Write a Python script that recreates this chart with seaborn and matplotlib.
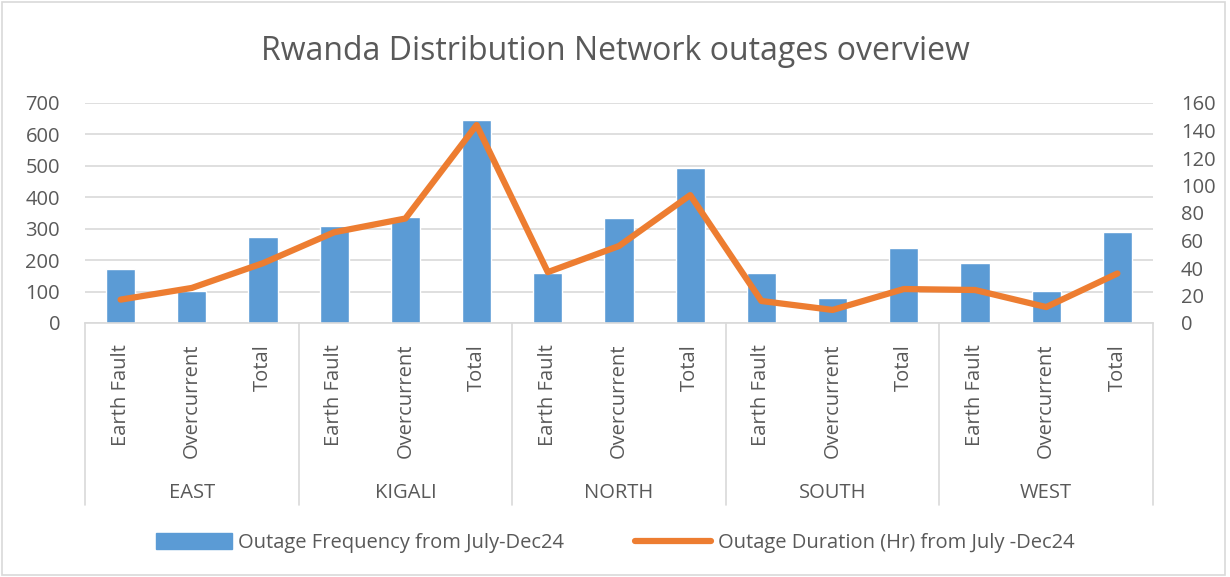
import numpy as np
import pandas as pd
import matplotlib
matplotlib.use('Agg')
import matplotlib.pyplot as plt
import seaborn as sns
from matplotlib.patches import Rectangle
from matplotlib.lines import Line2D
from matplotlib.patches import Patch

regions = ['EAST', 'KIGALI', 'NORTH', 'SOUTH', 'WEST']
fault_types = ['Earth Fault', 'Overcurrent', 'Total']
frequency = [172, 101, 274, 309, 338, 646, 159, 335, 493, 159, 79, 239, 192, 102, 290]
duration = [17, 25.5, 43.5, 66, 76, 144, 37, 56, 93, 16, 9.5, 24.7, 24, 11.6, 36]

sns.set_theme(style='white')
plt.rcParams['font.family'] = ['Open Sans', 'DejaVu Sans']
gray = '#595959'
blue = '#5B9BD5'
orange = '#ED7D31'

keys = [f'{r}|{t}' for r in regions for t in fault_types]
df = pd.DataFrame({'key': keys, 'pos': np.arange(len(keys)),
                   'frequency': frequency, 'duration': duration})

fig = plt.figure(figsize=(12.3, 5.77), dpi=100)
ax = fig.add_axes([85 / 1230, 1 - 323 / 577, (1153 - 85) / 1230, 220 / 577])

sns.barplot(data=df, x='key', y='frequency', color=blue, width=0.41,
            saturation=1, ax=ax)
ax.set_ylim(0, 700)
ax.set_yticks(range(0, 701, 100))
ax.yaxis.grid(True, color='#D9D9D9', linewidth=1.2)
ax.set_axisbelow(True)
ax.set_xlim(-0.5, len(keys) - 0.5)
ax.set_xlabel('')
ax.set_ylabel('')
for s in ['top', 'left', 'right']:
    ax.spines[s].set_visible(False)
ax.spines['bottom'].set_color('#D9D9D9')
ax.spines['bottom'].set_linewidth(1.2)
ax.set_xticks(range(len(keys)))
ax.set_xticklabels([t for r in regions for t in fault_types], rotation=90,
                   fontsize=14.5, color=gray, va='top')
ax.tick_params(axis='x', length=0, pad=15)
ax.tick_params(axis='y', labelsize=14.5, labelcolor=gray, length=0, pad=18)

ax2 = ax.twinx()
sns.lineplot(data=df, x='pos', y='duration', color=orange, linewidth=4.5,
             ax=ax2, legend=False)
ax2.set_ylim(0, 160)
ax2.set_yticks(range(0, 161, 20))
ax2.set_ylabel('')
ax2.set_xlabel('')
ax2.set_xlim(-0.5, len(keys) - 0.5)
for s in ax2.spines.values():
    s.set_visible(False)
ax2.tick_params(axis='y', labelsize=14.5, labelcolor=gray, length=0, pad=20)

# group separators and region labels under the category axis
trans = ax.get_xaxis_transform()
sep_bottom = -(505 - 323) / 220
for i in range(len(regions) + 1):
    x = i * 3 - 0.5
    ax.plot([x, x], [0, sep_bottom], transform=trans, color='#D9D9D9',
            linewidth=1.2, clip_on=False)
for i, r in enumerate(regions):
    ax.text(i * 3 + 1, -(493 - 323) / 220, r, transform=trans, ha='center',
            va='center', fontsize=14.5, color=gray)

fig.text(0.5, 1 - 52 / 577, 'Rwanda Distribution Network outages overview',
         ha='center', va='center', fontsize=23, color=gray)

handles = [Patch(color=blue), Line2D([0], [0], color=orange, linewidth=4.5)]
labels = ['Outage Frequency from July-Dec24', 'Outage Duration (Hr) from July -Dec24']
fig.legend(handles, labels, loc='center', bbox_to_anchor=(0.5, 1 - 543 / 577),
           ncol=2, frameon=False, fontsize=14.5, labelcolor=gray,
           columnspacing=3.5, handlelength=3.8, handleheight=0.8,
           handletextpad=0.3)

fig.patches.append(Rectangle((0.002, 0.004), 0.994, 0.992, transform=fig.transFigure,
                             fill=False, edgecolor='#D9D9D9', linewidth=1.2))

fig.savefig('out.png', dpi=100)
